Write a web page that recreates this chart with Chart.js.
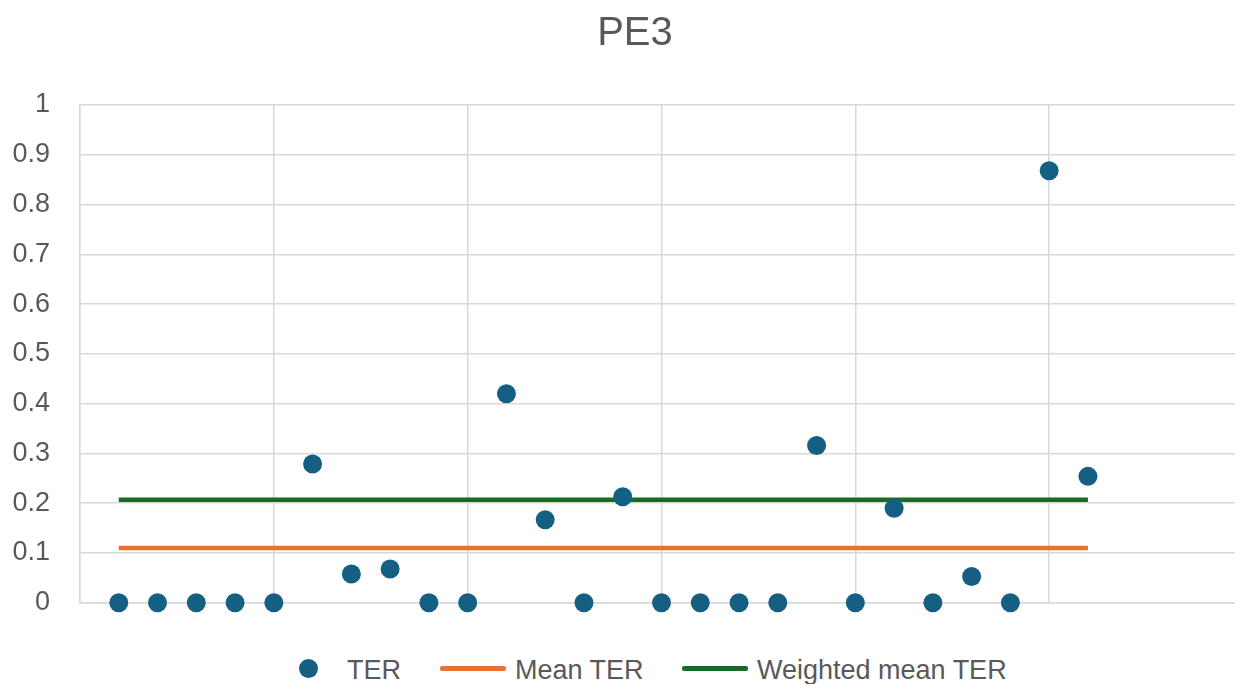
<!DOCTYPE html>
<html>
<head>
<meta charset="utf-8">
<script src="https://cdn.jsdelivr.net/npm/chart.js@4"></script>
<style>
  html, body { margin: 0; padding: 0; background: #fff; overflow: hidden; width: 1235px; height: 684px; }
  #wrap { position: relative; width: 1270px; height: 649px; }
  #title {
    position: absolute; left: 0; top: 9px; width: 1270px; text-align: center;
    font-family: "Liberation Sans", sans-serif; font-size: 40px; color: #595959;
  }
  #legend {
    position: absolute; left: 0; top: 655px; width: 1235px;
    font-family: "Liberation Sans Narrow", "Liberation Sans", sans-serif;
    font-size: 27px; color: #595959; white-space: nowrap;
  }
  #legend span { position: absolute; }
  .dot { width: 19px; height: 19px; border-radius: 50%; background: #156082; }
  .ln { width: 66px; height: 5px; border-radius: 2px; }
</style>
</head>
<body>
<div id="wrap">
  <canvas id="chart" width="1270" height="649"></canvas>
  <div id="title">PE3</div>
</div>
<div id="legend">
  <span class="dot" style="left:299px; top:4px;"></span>
  <span style="left:347px; top:0;">TER</span>
  <span class="ln" style="left:440px; top:11px; background:#E97132;"></span>
  <span style="left:515px; top:0;">Mean TER</span>
  <span class="ln" style="left:682px; top:11px; background:#196B24;"></span>
  <span style="left:757px; top:0;">Weighted mean TER</span>
</div>
<script>
// TER per item (x = item number)
const items = [1, 2, 3, 4, 5, 6, 7, 8, 9, 10, 11, 12, 13, 14, 15, 16, 17, 18, 19, 20, 21, 22, 23, 24, 25, 26];
const ter = [0, 0, 0, 0, 0, 0.279, 0.058, 0.068, 0, 0, 0.42, 0.167, 0, 0.213, 0, 0, 0, 0, 0.316, 0, 0.19, 0, 0.053, 0, 0.868, 0.254];
const meanTer = 0.11;
const weightedMeanTer = 0.207;
const lineRange = [1, 26];

const terPoints = items.map((x, i) => ({ x: x, y: ter[i] }));
const meanPoints = lineRange.map(x => ({ x: x, y: meanTer }));
const weightedPoints = lineRange.map(x => ({ x: x, y: weightedMeanTer }));

const ctx = document.getElementById("chart").getContext("2d");

new Chart(ctx, {
  type: "scatter",
  data: {
    datasets: [
      {
        label: "TER",
        data: terPoints,
        backgroundColor: "#156082",
        borderWidth: 0,
        pointRadius: 9.5,
        clip: false,
        order: 0,
      },
      {
        label: "Mean TER",
        type: "line",
        data: meanPoints,
        borderColor: "#E97132",
        borderWidth: 4.5,
        pointRadius: 0,
        fill: false,
        order: 2,
      },
      {
        label: "Weighted mean TER",
        type: "line",
        data: weightedPoints,
        borderColor: "#196B24",
        borderWidth: 4.5,
        pointRadius: 0,
        fill: false,
        order: 1,
      },
    ],
  },
  options: {
    responsive: false,
    animation: false,
    layout: { padding: { left: 0, right: 27, top: 105, bottom: 17 } },
    plugins: {
      legend: { display: false },
      tooltip: { enabled: false },
      title: { display: false },
    },
    scales: {
      x: {
        type: "linear",
        min: 0,
        max: 30,
        ticks: { display: false, stepSize: 5 },
        grid: { color: "#d9d9d9", lineWidth: 1.5, drawTicks: false },
        border: { color: "#d9d9d9", width: 1.5 },
      },
      y: {
        min: 0,
        max: 1,
        ticks: {
          stepSize: 0.1,
          padding: 30,
          color: "#595959",
          font: { family: "Liberation Sans", size: 27 },
          callback: (v) => String(Number(v.toFixed(1))),
        },
        grid: { color: "#d9d9d9", lineWidth: 1.5, drawTicks: false },
        border: { color: "#d9d9d9", width: 1.5 },
        afterFit: (scale) => { scale.width = 80; },
      },
    },
  },
});
</script>
</body>
</html>
